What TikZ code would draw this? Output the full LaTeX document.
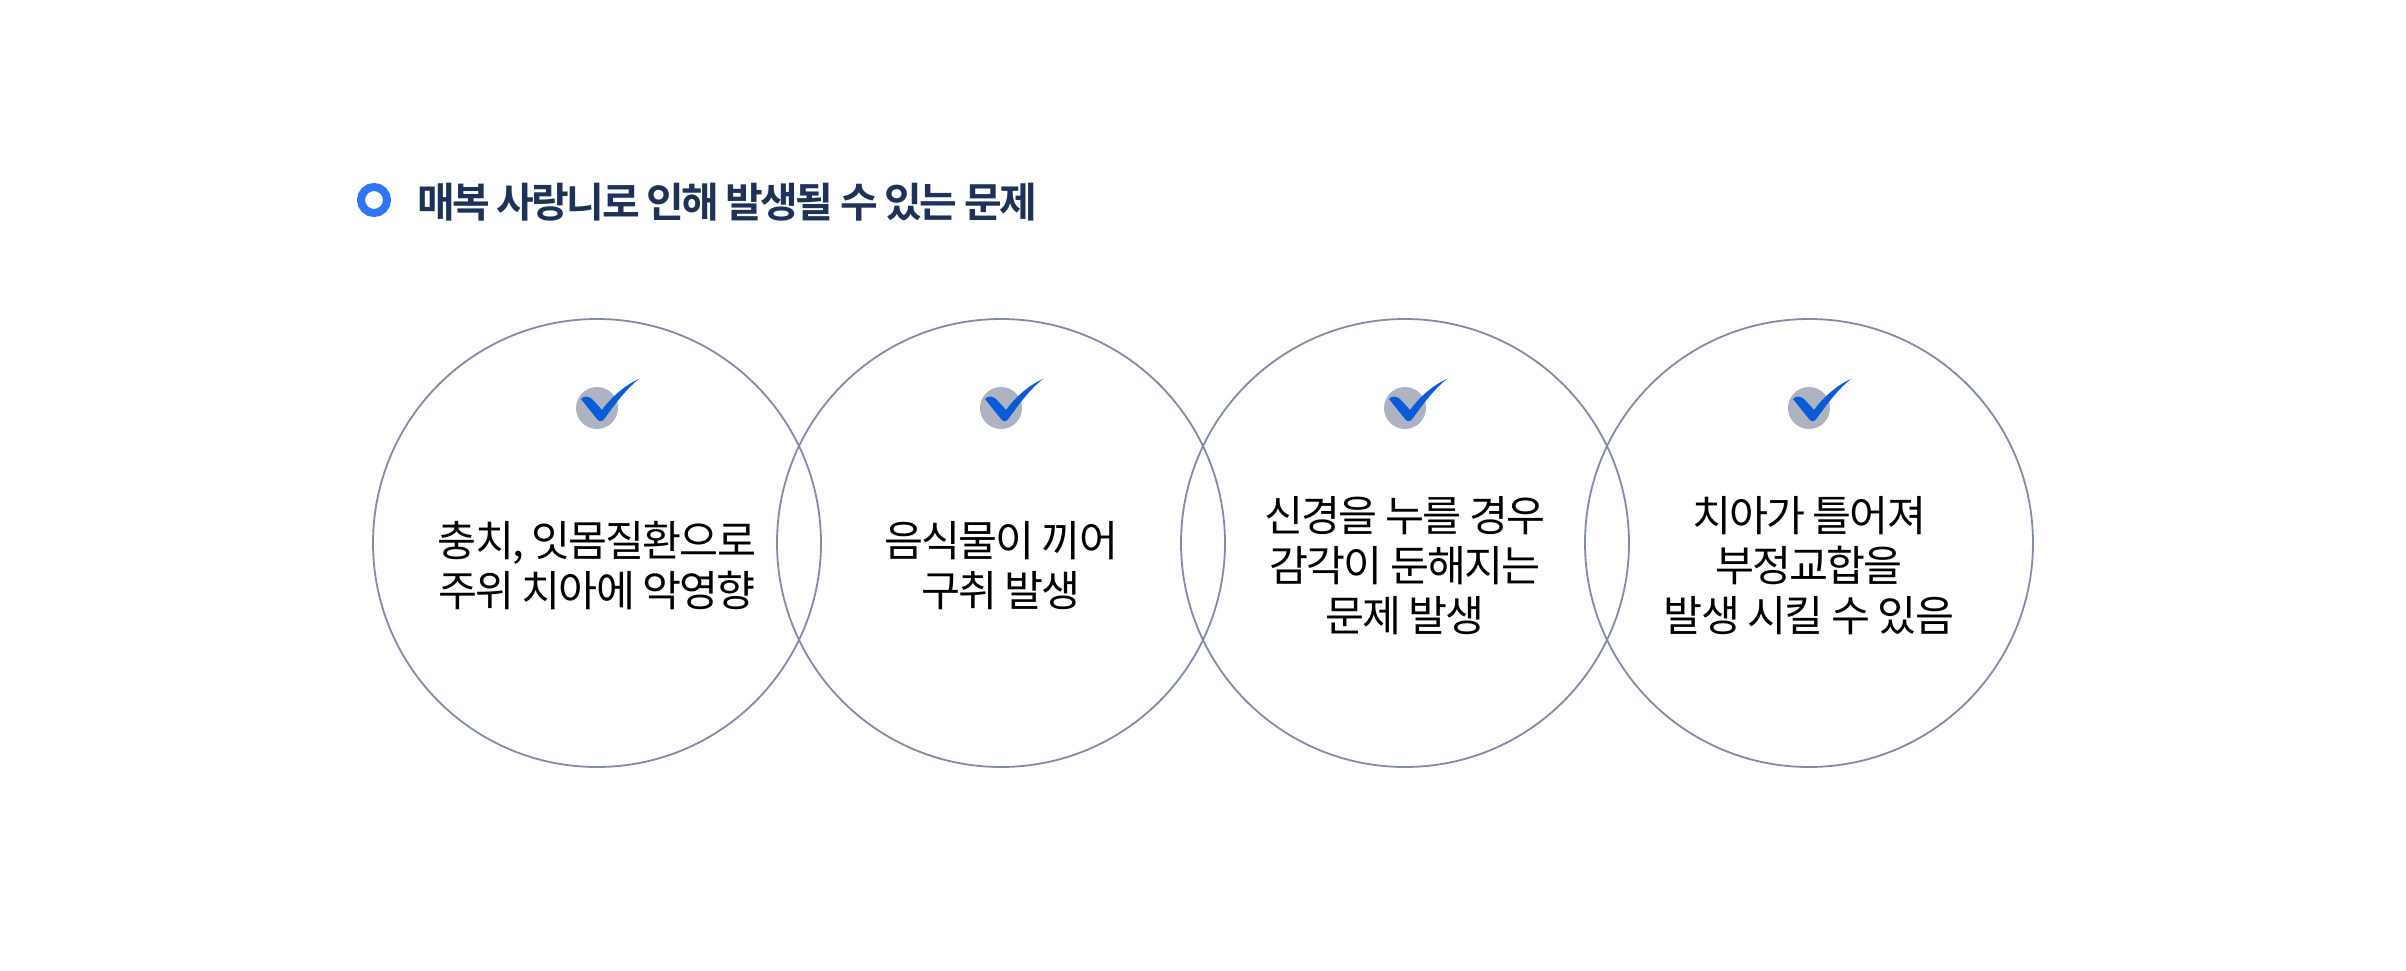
\documentclass[tikz,border=0pt]{standalone}
\usepackage{fontspec}
\setmainfont{Noto Sans CJK KR}[LetterSpace=-4.5]
\newfontfamily\headfont{Noto Sans CJK KR Bold}[LetterSpace=-6.5]
\definecolor{ringc}{HTML}{828CA5}
\definecolor{headc}{HTML}{1F3158}
\definecolor{dotc}{HTML}{2F74FB}
\definecolor{chkc}{HTML}{0A5BD8}
\definecolor{discc}{HTML}{ADB3C1}
\tikzset{
 x=0.5pt,y=-0.5pt,
 ring/.style={circle,draw=ringc,line width=0.9pt,minimum size=224pt,inner sep=0pt},
 disc/.style={circle,fill=discc,minimum size=21pt,inner sep=0pt},
 body/.style={align=center,font=\fontsize{21.2}{25}\selectfont,text=black,inner sep=0pt},
 tick/.pic={\fill[chkc] (-16,-9) .. controls (-13,-13) and (-7,-12) .. (-3,-7) -- (5,2) .. controls (15,-12) and (30,-24) .. (42,-29) .. controls (30,-20) and (18,-4) .. (8,10) .. controls (6,14) and (2,14) .. (0,11) -- cycle;}
}
\begin{document}
\begin{tikzpicture}
\useasboundingbox (0,0) rectangle (2406,970);
\fill[white] (0,0) rectangle (2406,970);
\node[circle,draw=dotc,line width=4pt,minimum size=13pt,inner sep=0pt] (dot) at (374,200) {};
\node[anchor=west,inner sep=0pt,text=headc,font=\headfont\fontsize{20.5}{24}\selectfont] (head) at (417,202) {매복 사랑니로 인해 발생될 수 있는 문제};
\foreach \n/\cx in {a/597,b/1001,c/1405,d/1809}{
 \node[ring] (r\n) at (\cx,543) {};
 \node[disc] (k\n) at (\cx,408) {};
 \pic at (\cx,408) {tick};
}
\node[body] (ta) at (597,566) {충치, 잇몸질환으로\\주위 치아에 악영향};
\node[body] (tb) at (1001,566) {음식물이 끼어\\구취 발생};
\node[body] (tc) at (1405,566) {신경을 누를 경우\\감각이 둔해지는\\문제 발생};
\node[body] (td) at (1809,566) {치아가 틀어져\\부정교합을\\발생 시킬 수 있음};
\end{tikzpicture}
\end{document}
